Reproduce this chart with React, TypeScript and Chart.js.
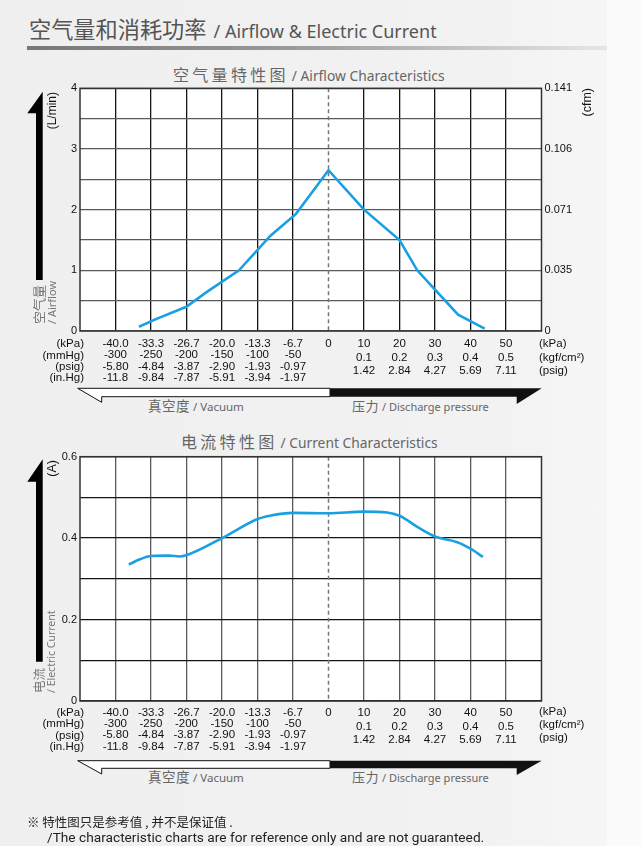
import React, { useEffect, useRef } from "react";
import { Chart, registerables } from "chart.js";

Chart.register(...registerables);

// ---------- data ----------
const vacuumKpa = ["-40.0", "-33.3", "-26.7", "-20.0", "-13.3", "-6.7"];
const vacuumMmHg = ["-300", "-250", "-200", "-150", "-100", "-50"];
const vacuumPsig = ["-5.80", "-4.84", "-3.87", "-2.90", "-1.93", "-0.97"];
const vacuumInHg = ["-11.8", "-9.84", "-7.87", "-5.91", "-3.94", "-1.97"];
const zeroLabel = "0";
const pressureKpa = ["10", "20", "30", "40", "50"];
const pressureKgf = ["0.1", "0.2", "0.3", "0.4", "0.5"];
const pressurePsig = ["1.42", "2.84", "4.27", "5.69", "7.11"];
const vacuumUnits = ["(kPa)", "(mmHg)", "(psig)", "(in.Hg)"];
const pressureUnits = ["(kPa)", "(kgf/cm²)", "(psig)"];

// x-axis columns (the chart's x grid is evenly spaced by column)
const vacuumCols = [1, 2, 3, 4, 5, 6, 7];
const pressureCols = [8, 9, 10, 11, 12];
const ZERO_COL = 7;
const X_MIN = 0;
const X_MAX = 13;

const airflowKpa = [-35.6, -32.3, -26.7, -22.9, -16.8, -10.9, -6.1, 0, 10, 20, 25, 30, 36.5, 39.7, 44];
const airflowLmin = [0.07, 0.2, 0.4, 0.64, 1.0, 1.57, 1.93, 2.65, 2.0, 1.5, 1.0, 0.68, 0.27, 0.17, 0.04];
const airflowTickValues = [0, 0.5, 1, 1.5, 2, 2.5, 3, 3.5, 4];
const airflowTickLabels = ["0", "", "1", "", "2", "", "3", "", "4"];
const cfmTickValues = [0, 1, 2, 3, 4];
const cfmTickLabels = ["0", "0.035", "0.071", "0.106", "0.141"];

const currentKpa = [-37.5, -35.4, -33.3, -30, -28, -26.7, -20, -13.3, -11, -6.7, 0, 10, 16.5, 20, 25.5, 30, 36.3, 40, 43.5];
const currentA = [0.335, 0.348, 0.356, 0.357, 0.355, 0.358, 0.4, 0.447, 0.455, 0.462, 0.461, 0.465, 0.463, 0.455, 0.425, 0.404, 0.39, 0.374, 0.354];
const currentTickValues = [0, 0.1, 0.2, 0.3, 0.4, 0.5, 0.6];
const currentTickLabels = ["0", "", "0.2", "", "0.4", "", "0.6"];

// kPa -> column position (vacuum side 6.67 kPa per column, pressure side 10 kPa per column)
function kpaToCol(k: number) {
  return k <= 0 ? ZERO_COL + k / (40 / 6) : ZERO_COL + k / 10;
}

const FONT_TICK = "'Liberation Sans', Arial, sans-serif";
const FONT_UI = "'Noto Sans', 'Noto Sans CJK SC', sans-serif";
const FONT_CJK = "'Noto Sans CJK SC', 'Noto Sans', sans-serif";
const LINE_COLOR = "#1a9fe3";

type Spec = {
  top: number;
  height: number;
  areaTop: number;
  areaBottom: number;
  xs: number[];
  ys: number[];
  yTicks: number[];
  yLabels: string[];
  rightTicks?: number[];
  rightLabels?: string[];
  vacPad: number;
  vacLH: number;
  presPad: number;
  presLH: number;
  hGrid: string;
  vGrid: string;
  smooth: boolean;
};

const AREA_LEFT = 80;
const AREA_RIGHT = 541.5;

function ChartCanvas({ spec }: { spec: Spec }) {
  const ref = useRef<HTMLCanvasElement>(null);
  useEffect(() => {
    const canvas = ref.current;
    if (!canvas) return;
    const leftAxisW = 30;
    const rightAxisW = spec.rightLabels ? 50 : 0;
    const padLeft = AREA_LEFT - leftAxisW;
    const padRight = 642 - AREA_RIGHT - rightAxisW;
    const padTop = spec.areaTop - spec.top;
    const xAxisH = spec.top + spec.height - spec.areaBottom;
    const yMin = spec.yTicks[0];
    const yMax = spec.yTicks[spec.yTicks.length - 1];

    const decor = {
      id: "decor",
      afterLayout(chart: any) {
        // both bottom axes share the same band below the plot
        const x = chart.scales.x;
        const x2 = chart.scales.x2;
        if (x && x2) {
          x.bottom = x2.bottom;
          x.height = x2.bottom - x.top;
        }
      },
      beforeDraw(chart: any) {
        const { ctx, chartArea: a } = chart;
        ctx.save();
        ctx.fillStyle = "#ffffff";
        ctx.fillRect(a.left, a.top, a.right - a.left, a.bottom - a.top);
        ctx.restore();
      },
      beforeDatasetsDraw(chart: any) {
        const { ctx, chartArea: a } = chart;
        const x = chart.scales.x.getPixelForValue(ZERO_COL);
        ctx.save();
        ctx.strokeStyle = "#777";
        ctx.lineWidth = 1.5;
        ctx.setLineDash([4, 3]);
        ctx.beginPath();
        ctx.moveTo(x, a.top);
        ctx.lineTo(x, a.bottom);
        ctx.stroke();
        ctx.restore();
      },
      afterDraw(chart: any) {
        const { ctx, chartArea: a } = chart;
        ctx.save();
        ctx.strokeStyle = "#333";
        ctx.lineWidth = 1.5;
        ctx.strokeRect(a.left, a.top, a.right - a.left, a.bottom - a.top);
        ctx.restore();
      },
    };

    const vacFont = { family: FONT_TICK, size: 11.5, lineHeight: `${spec.vacLH}px` };
    const presFont = { family: FONT_TICK, size: 11.5, lineHeight: `${spec.presLH}px` };

    const scales: any = {
      x: {
        type: "linear",
        position: "bottom",
        min: X_MIN,
        max: X_MAX,
        weight: 0,
        afterBuildTicks: (s: any) => {
          s.ticks = vacuumCols.map((value) => ({ value }));
        },
        afterFit: (s: any) => {
          s.height = 0;
        },
        grid: {
          color: (c: any) => (c.tick && c.tick.value === ZERO_COL ? "rgba(0,0,0,0)" : spec.vGrid),
          lineWidth: 1.3,
          drawTicks: false,
        },
        border: { display: false },
        ticks: {
          autoSkip: false,
          maxRotation: 0,
          minRotation: 0,
          padding: spec.vacPad,
          color: "#111",
          font: vacFont,
          callback: (v: number) => {
            const c = Math.round(v);
            if (c === ZERO_COL) return zeroLabel;
            const i = c - 1;
            if (i >= 0 && i < vacuumKpa.length) return [vacuumKpa[i], vacuumMmHg[i], vacuumPsig[i], vacuumInHg[i]];
            return "";
          },
        },
      },
      x2: {
        type: "linear",
        position: "bottom",
        min: X_MIN,
        max: X_MAX,
        weight: 1,
        afterBuildTicks: (s: any) => {
          s.ticks = pressureCols.map((value) => ({ value }));
        },
        afterFit: (s: any) => {
          s.height = xAxisH;
        },
        grid: { color: spec.vGrid, lineWidth: 1.3, drawTicks: false },
        border: { display: false },
        ticks: {
          autoSkip: false,
          maxRotation: 0,
          minRotation: 0,
          padding: spec.presPad,
          color: "#111",
          font: presFont,
          callback: (v: number) => {
            const i = Math.round(v) - pressureCols[0];
            if (i >= 0 && i < pressureKpa.length) return [pressureKpa[i], pressureKgf[i], pressurePsig[i]];
            return "";
          },
        },
      },
      y: {
        type: "linear",
        position: "left",
        min: yMin,
        max: yMax,
        afterBuildTicks: (s: any) => {
          s.ticks = spec.yTicks.map((value) => ({ value }));
        },
        afterFit: (s: any) => {
          s.width = leftAxisW;
        },
        grid: { color: spec.hGrid, lineWidth: 1.3, drawTicks: false },
        border: { display: false },
        ticks: {
          padding: 3,
          color: "#111",
          font: { family: FONT_TICK, size: 11 },
          callback: (v: number, i: number) => spec.yLabels[i] ?? "",
        },
      },
    };
    if (spec.rightLabels && spec.rightTicks) {
      const rt = spec.rightTicks;
      const rl = spec.rightLabels;
      scales.y2 = {
        type: "linear",
        position: "right",
        min: rt[0],
        max: rt[rt.length - 1],
        afterBuildTicks: (s: any) => {
          s.ticks = rt.map((value) => ({ value }));
        },
        afterFit: (s: any) => {
          s.width = rightAxisW;
        },
        grid: { drawOnChartArea: false, drawTicks: false },
        border: { display: false },
        ticks: {
          padding: 3,
          color: "#111",
          font: { family: FONT_TICK, size: 11 },
          callback: (v: number, i: number) => rl[i] ?? "",
        },
      };
    }

    const chart = new Chart(canvas, {
      type: "line",
      data: {
        datasets: [
          {
            data: spec.xs.map((k, i) => ({ x: kpaToCol(k), y: spec.ys[i] })),
            xAxisID: "x",
            yAxisID: "y",
            borderColor: LINE_COLOR,
            borderWidth: 2.6,
            pointRadius: 0,
            fill: false,
            tension: spec.smooth ? 0.4 : 0,
            cubicInterpolationMode: spec.smooth ? "monotone" : "default",
          } as any,
        ],
      },
      options: {
        animation: false,
        responsive: false,
        events: [],
        layout: { padding: { left: padLeft, right: padRight, top: padTop, bottom: 0 } },
        plugins: { legend: { display: false }, tooltip: { enabled: false }, title: { display: false } },
        scales,
      } as any,
      plugins: [decor],
    });
    return () => chart.destroy();
  }, [spec]);

  return (
    <canvas
      ref={ref}
      width={642}
      height={spec.height}
      style={{ position: "absolute", left: 0, top: spec.top, width: 642, height: spec.height, display: "block" }}
    />
  );
}

const airflowSpec: Spec = {
  top: 78,
  height: 312,
  areaTop: 88.3,
  areaBottom: 331,
  xs: airflowKpa,
  ys: airflowLmin,
  yTicks: airflowTickValues,
  yLabels: airflowTickLabels,
  rightTicks: cfmTickValues,
  rightLabels: cfmTickLabels,
  vacPad: 7.4,
  vacLH: 11.2,
  presPad: 6.3,
  presLH: 13.5,
  hGrid: "#5a5a5a",
  vGrid: "#151515",
  smooth: false,
};

const currentSpec: Spec = {
  top: 446,
  height: 310,
  areaTop: 456.7,
  areaBottom: 701,
  xs: currentKpa,
  ys: currentA,
  yTicks: currentTickValues,
  yLabels: currentTickLabels,
  vacPad: 6,
  vacLH: 11.3,
  presPad: 5,
  presLH: 13.6,
  hGrid: "#151515",
  vGrid: "#5a5a5a",
  smooth: true,
};

function HText({ left, cy, children, style }: any) {
  return (
    <div
      style={{
        position: "absolute",
        left,
        top: cy,
        transform: "translateY(-50%)",
        whiteSpace: "nowrap",
        lineHeight: 1,
        ...style,
      }}
    >
      {children}
    </div>
  );
}

// rotated -90deg text starting at bottomY and reading upwards
function VTextUp({ left, bottomY, children, style }: any) {
  return (
    <div
      style={{
        position: "absolute",
        left,
        top: bottomY,
        transform: "rotate(-90deg)",
        transformOrigin: "0 0",
        whiteSpace: "nowrap",
        ...style,
      }}
    >
      {children}
    </div>
  );
}

// rotated -90deg text ending at topY
function VTextTop({ left, topY, children, style }: any) {
  const W = 80;
  return (
    <div
      style={{
        position: "absolute",
        left,
        top: topY + W,
        width: W,
        textAlign: "right",
        transform: "rotate(-90deg)",
        transformOrigin: "0 0",
        whiteSpace: "nowrap",
        ...style,
      }}
    >
      {children}
    </div>
  );
}

function UnitColumn({ left, right, top, lh, rows }: any) {
  const style: any = {
    position: "absolute",
    top,
    fontFamily: FONT_TICK,
    fontSize: 11.5,
    lineHeight: `${lh}px`,
    color: "#111",
    whiteSpace: "nowrap",
  };
  if (right !== undefined) {
    style.left = right - 80;
    style.width = 80;
    style.textAlign = "right";
  } else {
    style.left = left;
  }
  return (
    <div style={style}>
      {rows.map((r: string, i: number) => (
        <div key={i}>{r}</div>
      ))}
    </div>
  );
}

function ChartTitle({ left, cy, zh, en }: any) {
  return (
    <HText left={left} cy={cy} style={{ color: "#666" }}>
      <span style={{ fontFamily: FONT_CJK, fontSize: 16, letterSpacing: 3.3 }}>{zh}</span>
      <span style={{ fontFamily: FONT_UI, fontSize: 13.8, marginLeft: 3 }}>{en}</span>
    </HText>
  );
}

function BarLabels({ cy }: any) {
  return (
    <>
      <HText left={148} cy={cy} style={{ color: "#666" }}>
        <span style={{ fontFamily: FONT_CJK, fontSize: 13.5, letterSpacing: 0.5 }}>真空度</span>
        <span style={{ fontFamily: FONT_UI, fontSize: 11.5, marginLeft: 3 }}>/ Vacuum</span>
      </HText>
      <HText left={352} cy={cy} style={{ color: "#666" }}>
        <span style={{ fontFamily: FONT_CJK, fontSize: 13, letterSpacing: 0.5 }}>压力</span>
        <span style={{ fontFamily: FONT_UI, fontSize: 11, marginLeft: 3 }}>/ Discharge pressure</span>
      </HText>
    </>
  );
}

function barPolys(yT: number, yB: number, leftBarb: number, rightBarb: number) {
  return (
    <>
      <polygon
        points={`77.7,${yT} 330,${yT} 330,${yB} 101.7,${yB} 101.7,${leftBarb}`}
        fill="#ffffff"
        stroke="#111"
        strokeWidth={1}
      />
      <polygon points={`330,${yT} 541.7,${yT} 516.7,${rightBarb} 516.7,${yB} 330,${yB}`} fill="#111" />
    </>
  );
}

export default function App() {
  return (
    <div
      style={{
        position: "absolute",
        left: 0,
        top: 0,
        width: 642,
        height: 846,
        overflow: "hidden",
        background:
          "linear-gradient(to right, #efefef 0%, #f2f2f2 75%, #f6f6f6 94.5%, #fbfbfb 94.6%, #fbfbfb 100%)",
      }}
    >
      {/* main title */}
      <HText left={29} cy={29} style={{ color: "#555" }}>
        <span style={{ fontFamily: FONT_CJK, fontSize: 22.2 }}>空气量和消耗功率</span>
        <span style={{ fontFamily: FONT_UI, fontSize: 18, marginLeft: 7 }}>/ Airflow &amp; Electric Current</span>
      </HText>
      <div
        style={{
          position: "absolute",
          left: 27,
          top: 46,
          width: 580,
          height: 4,
          background: "linear-gradient(to right, #777 0%, #999 45%, #e6e6e6 100%)",
        }}
      />

      <ChartTitle left={173} cy={75} zh="空气量特性图" en="/ Airflow Characteristics" />
      <ChartTitle left={181} cy={442} zh="电流特性图" en="/ Current Characteristics" />

      <ChartCanvas spec={airflowSpec} />
      <ChartCanvas spec={currentSpec} />

      {/* unit labels chart 1 */}
      <UnitColumn right={84} top={344 - 5.6} lh={11.2} rows={vacuumUnits} />
      <UnitColumn left={539} top={344 - 6.75} lh={13.5} rows={pressureUnits} />
      {/* unit labels chart 2 */}
      <UnitColumn right={84} top={712.3 - 5.65} lh={11.6} rows={vacuumUnits} />
      <UnitColumn left={539} top={711.7 - 6.5} lh={12.7} rows={pressureUnits} />

      {/* axis titles */}
      <VTextTop left={46} topY={92} style={{ fontFamily: FONT_TICK, fontSize: 12, lineHeight: "12px", color: "#111" }}>
        (L/min)
      </VTextTop>
      <VTextTop left={581} topY={88} style={{ fontFamily: FONT_TICK, fontSize: 12.5, lineHeight: "12px", color: "#111" }}>
        (cfm)
      </VTextTop>
      <VTextTop left={46} topY={460} style={{ fontFamily: FONT_TICK, fontSize: 12.5, lineHeight: "12px", color: "#111" }}>
        (A)
      </VTextTop>

      <VTextUp left={32} bottomY={323.5} style={{ color: "#777" }}>
        <div style={{ fontFamily: FONT_CJK, fontSize: 13, lineHeight: "14px" }}>空气量</div>
        <div style={{ fontFamily: FONT_UI, fontSize: 11, lineHeight: "11px" }}>/ Airflow</div>
      </VTextUp>
      <VTextUp left={32} bottomY={693} style={{ color: "#777" }}>
        <div style={{ fontFamily: FONT_CJK, fontSize: 12.5, lineHeight: "14px" }}>电流</div>
        <div style={{ fontFamily: FONT_UI, fontSize: 10.5, lineHeight: "11px" }}>/ Electric Current</div>
      </VTextUp>

      <BarLabels cy={406} />
      <BarLabels cy={777} />

      {/* arrows and bars */}
      <svg
        width={642}
        height={846}
        style={{ position: "absolute", left: 0, top: 0, pointerEvents: "none" }}
      >
        <polygon points="42.7,91.7 42.7,280 36,280 36,113.3 27.3,113.3" fill="#000" />
        <polygon points="42.7,459.3 42.7,661.7 36,661.7 36,481.7 27.3,481.7" fill="#000" />
        {barPolys(388.3, 396.7, 402.3, 404)}
        {barPolys(760.7, 768.3, 774, 775)}
      </svg>

      {/* footnote */}
      <HText left={27} cy={822} style={{ fontFamily: FONT_CJK, fontSize: 12.5, color: "#222" }}>
        ※ 特性图只是参考值 , 并不是保证值 .
      </HText>
      <HText left={47} cy={838} style={{ fontFamily: "Roboto, 'Noto Sans', sans-serif", fontSize: 13.7, color: "#222" }}>
        /The characteristic charts are for reference only and are not guaranteed.
      </HText>
    </div>
  );
}
